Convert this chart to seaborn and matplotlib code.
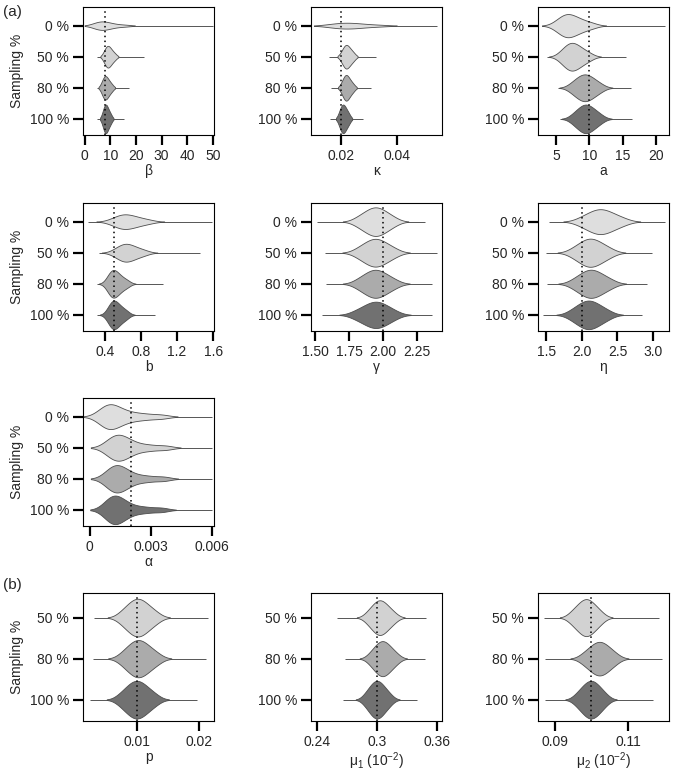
# Posterior violins for the model parameters, by sampling level

import numpy as np
import pandas as pd
import matplotlib
matplotlib.use("Agg")
import matplotlib.pyplot as plt
import seaborn as sns

groups_a = ["0 %", "50 %", "80 %", "100 %"]
groups_b = ["50 %", "80 %", "100 %"]
greys_a = ["#dedede", "#d2d2d2", "#ababab", "#717171"]
greys_b = ["#d2d2d2", "#ababab", "#717171"]

# body quantiles, plus the ends of the thin tails
beta_body = [
    [3.5, 4.8, 5.7, 6.4, 7.1, 7.9, 8.9, 10.3, 12.4, 16.0],
    [7.4, 8.05, 8.45, 8.8, 9.05, 9.4, 9.8, 10.3, 10.85, 11.85],
    [6.55, 7.15, 7.55, 7.8, 8.05, 8.4, 8.8, 9.2, 9.75, 10.65],
    [6.9, 7.4, 7.75, 7.95, 8.2, 8.45, 8.75, 9.1, 9.55, 10.25],
]
beta_lo = [2.0, 4.6, 4.6, 4.9]
beta_hi = [50.0, 23.3, 17.1, 15.4]

kappa_body = [
    [0.0155, 0.0178, 0.0195, 0.0209, 0.0222, 0.0236, 0.0252, 0.0272, 0.0300, 0.0345],
    [0.0199, 0.0207, 0.0211, 0.0214, 0.0218, 0.0221, 0.0225, 0.0230, 0.0236, 0.0245],
    [0.0200, 0.0207, 0.0211, 0.0214, 0.0217, 0.0220, 0.0224, 0.0228, 0.0234, 0.0243],
    [0.0191, 0.0197, 0.0200, 0.0203, 0.0206, 0.0209, 0.0212, 0.0216, 0.0221, 0.0228],
]
kappa_lo = [0.0113, 0.0156, 0.0164, 0.0158]
kappa_hi = [0.0545, 0.0325, 0.0307, 0.0277]

a_body = [
    [5.05, 5.75, 6.2, 6.55, 6.85, 7.25, 7.75, 8.35, 9.05, 10.3],
    [5.7, 6.35, 6.75, 7.1, 7.35, 7.7, 8.1, 8.5, 9.05, 9.95],
    [7.3, 8.05, 8.5, 8.85, 9.2, 9.55, 9.9, 10.3, 10.8, 11.65],
    [7.55, 8.25, 8.7, 9.05, 9.35, 9.65, 10.0, 10.4, 10.85, 11.65],
]
a_lo = [3.15, 3.65, 5.25, 5.5]
a_hi = [21.35, 15.5, 16.25, 16.35]

b_body = [
    [0.475, 0.535, 0.575, 0.6, 0.625, 0.66, 0.7, 0.74, 0.795, 0.885],
    [0.505, 0.555, 0.59, 0.61, 0.635, 0.66, 0.69, 0.725, 0.77, 0.84],
    [0.425, 0.455, 0.47, 0.485, 0.5, 0.515, 0.54, 0.56, 0.595, 0.645],
    [0.43, 0.46, 0.475, 0.49, 0.505, 0.52, 0.54, 0.565, 0.595, 0.64],
]
b_lo = [0.215, 0.336, 0.306, 0.306]
b_hi = [1.59, 1.46, 1.045, 0.96]

gamma_body = [
    [1.813, 1.862, 1.891, 1.914, 1.935, 1.955, 1.976, 1.999, 2.028, 2.077],
    [1.813, 1.862, 1.891, 1.914, 1.935, 1.956, 1.978, 2.002, 2.033, 2.085],
    [1.815, 1.863, 1.892, 1.915, 1.936, 1.956, 1.978, 2.002, 2.033, 2.085],
    [1.797, 1.853, 1.885, 1.911, 1.934, 1.956, 1.978, 2.002, 2.033, 2.085],
]
gamma_lo = [1.51, 1.574, 1.578, 1.549]
gamma_hi = [2.31, 2.40, 2.363, 2.363]

eta_body = [
    [1.985, 2.09, 2.15, 2.2, 2.245, 2.29, 2.335, 2.39, 2.46, 2.575],
    [1.875, 1.97, 2.025, 2.065, 2.105, 2.145, 2.19, 2.235, 2.295, 2.395],
    [1.885, 1.98, 2.03, 2.075, 2.115, 2.155, 2.195, 2.245, 2.305, 2.405],
    [1.855, 1.945, 2.0, 2.04, 2.08, 2.12, 2.16, 2.21, 2.265, 2.365],
]
eta_lo = [1.537, 1.5, 1.514, 1.458]
eta_hi = [3.164, 2.99, 2.92, 2.85]

alpha_body = [
    [0.0005, 0.00068, 0.0008, 0.0009, 0.001, 0.0011, 0.00123, 0.0014, 0.0016, 0.0019, 0.0023, 0.0028, 0.0035],
    [0.0008, 0.001, 0.00115, 0.00126, 0.00136, 0.00146, 0.00158, 0.00173, 0.0019, 0.0021, 0.0025, 0.003, 0.0037],
    [0.00078, 0.00097, 0.0011, 0.0012, 0.00129, 0.00139, 0.0015, 0.00164, 0.0018, 0.002, 0.0024, 0.0029, 0.0036],
    [0.00074, 0.00092, 0.00103, 0.00112, 0.0012, 0.0013, 0.0014, 0.00153, 0.0017, 0.0019, 0.0023, 0.0028, 0.0035],
]
alpha_lo = [0.00003, 0.00017, 0.00017, 0.00017]
alpha_hi = [0.006, 0.006, 0.006, 0.006]

p_body = [
    [0.00753, 0.0085, 0.00908, 0.00954, 0.00996, 0.01038, 0.01083, 0.01134, 0.01197, 0.01304],
    [0.00764, 0.00861, 0.00919, 0.00965, 0.01007, 0.0105, 0.01096, 0.01148, 0.01213, 0.01323],
    [0.00737, 0.00834, 0.00892, 0.00938, 0.0098, 0.01022, 0.01067, 0.01118, 0.01181, 0.01288],
]
p_lo = [0.00298, 0.0028, 0.00229]
p_hi = [0.0215, 0.0212, 0.0197]

mu1_body = [
    [0.2905, 0.2951, 0.2979, 0.3001, 0.302, 0.304, 0.3062, 0.3086, 0.3116, 0.3167],
    [0.2933, 0.2978, 0.3005, 0.3027, 0.3047, 0.3066, 0.3088, 0.3111, 0.3141, 0.3191],
    [0.2885, 0.2927, 0.2953, 0.2973, 0.2991, 0.301, 0.3029, 0.3051, 0.3079, 0.3125],
]
mu1_lo = [0.2593, 0.2676, 0.2653]
mu1_hi = [0.3486, 0.3476, 0.3403]

mu2_body = [
    [0.0947, 0.0961, 0.097, 0.0977, 0.0983, 0.0989, 0.0995, 0.1002, 0.1011, 0.1025],
    [0.0979, 0.0995, 0.1004, 0.1012, 0.1019, 0.1025, 0.1032, 0.104, 0.1049, 0.1065],
    [0.0961, 0.0975, 0.0983, 0.099, 0.0996, 0.1002, 0.1008, 0.1015, 0.1023, 0.1037],
]
mu2_lo = [0.0871, 0.0873, 0.0873]
mu2_hi = [0.1184, 0.1193, 0.1168]

true_vals = {"beta": 8, "kappa": 0.02, "a": 10, "b": 0.5, "gamma": 2.0,
             "eta": 2.0, "alpha": 0.002, "p": 0.01, "mu1": 0.3, "mu2": 0.1}

sns.set_style("ticks")
plt.rcParams["font.family"] = ["Liberation Sans", "DejaVu Sans"]
plt.rcParams["mathtext.fontset"] = "custom"
plt.rcParams["mathtext.rm"] = "Liberation Sans"
plt.rcParams["mathtext.it"] = "Liberation Sans:italic"


def violin_panel(ax, groups, greys, body, lo, hi, true_val, xlim, xticks,
                 xticklabels, xlabel, cut=2.0, bw=1.0):
    df = pd.DataFrame([(g, v) for g, vals in zip(groups, body) for v in vals],
                      columns=["group", "value"])
    pos = np.arange(len(groups))
    ax.hlines(pos, lo, hi, color="#555555", lw=0.7, zorder=0.5)
    sns.violinplot(data=df, x="value", y="group", hue="group", order=groups,
                   hue_order=groups, palette=greys, orient="h",
                   density_norm="area", common_norm=True, inner=None, cut=cut,
                   bw_adjust=bw, width=0.92, linewidth=0.6, linecolor="#4d4d4d",
                   legend=False, ax=ax)
    ax.axvline(true_val, color="black", ls=(0, (1, 2.2)), lw=1.1, zorder=5)
    ax.set_xlim(xlim)
    ax.set_ylim(len(groups) - 1 + 0.52, -0.6)
    ax.set_xticks(xticks)
    ax.set_xticklabels(xticklabels)
    ax.set_xlabel(xlabel, fontsize=10, labelpad=1)
    ax.set_ylabel("")
    for s in ax.spines.values():
        s.set_visible(True)
        s.set_linewidth(0.8)
        s.set_color("black")
    ax.tick_params(axis="both", length=7, width=1.6, direction="out",
                   labelsize=10, color="black")
    ax.tick_params(axis="x", pad=3)
    ax.tick_params(axis="y", pad=3)


fig = plt.figure(figsize=(6.75, 7.71), dpi=100)
W, H = 675, 771
col_left = [83, 311, 538]
row_top = [7, 203, 398, 593]
aw, ah = 131, 128


def make_ax(r, c):
    return fig.add_axes([col_left[c] / W, 1 - (row_top[r] + ah) / H, aw / W, ah / H])


ax = make_ax(0, 0)
violin_panel(ax, groups_a, greys_a, beta_body, beta_lo, beta_hi, true_vals["beta"],
             (-0.7, 50.5), [0, 10, 20, 30, 40, 50], ["0", "10", "20", "30", "40", "50"], "β",
             cut=1.5)
ax.set_ylabel("Sampling %", fontsize=10)

ax = make_ax(0, 1)
violin_panel(ax, groups_a, greys_a, kappa_body, kappa_lo, kappa_hi, true_vals["kappa"],
             (0.009, 0.0563), [0.02, 0.04], ["0.02", "0.04"], "κ", cut=1.5)

ax = make_ax(0, 2)
violin_panel(ax, groups_a, greys_a, a_body, a_lo, a_hi, true_vals["a"],
             (2.25, 22), [5, 10, 15, 20], ["5", "10", "15", "20"], "a", cut=2.2)

ax = make_ax(1, 0)
violin_panel(ax, groups_a, greys_a, b_body, b_lo, b_hi, true_vals["b"],
             (0.155, 1.61), [0.4, 0.8, 1.2, 1.6], ["0.4", "0.8", "1.2", "1.6"], "b", cut=2.2)
ax.set_ylabel("Sampling %", fontsize=10)

ax = make_ax(1, 1)
violin_panel(ax, groups_a, greys_a, gamma_body, gamma_lo, gamma_hi, true_vals["gamma"],
             (1.468, 2.436), [1.5, 1.75, 2.0, 2.25], ["1.50", "1.75", "2.00", "2.25"], "γ",
             cut=2.2)

ax = make_ax(1, 2)
violin_panel(ax, groups_a, greys_a, eta_body, eta_lo, eta_hi, true_vals["eta"],
             (1.383, 3.225), [1.5, 2.0, 2.5, 3.0], ["1.5", "2.0", "2.5", "3.0"], "η", cut=2.2)

ax = make_ax(2, 0)
violin_panel(ax, groups_a, greys_a, alpha_body, alpha_lo, alpha_hi, true_vals["alpha"],
             (-0.00033, 0.00608), [0, 0.003, 0.006], ["0", "0.003", "0.006"], "α",
             cut=2.0, bw=0.75)
ax.set_ylabel("Sampling %", fontsize=10)

ax = make_ax(3, 0)
violin_panel(ax, groups_b, greys_b, p_body, p_lo, p_hi, true_vals["p"],
             (0.00122, 0.0225), [0.01, 0.02], ["0.01", "0.02"], "p", cut=2.2)
ax.set_ylabel("Sampling %", fontsize=10)

ax = make_ax(3, 1)
violin_panel(ax, groups_b, greys_b, mu1_body, mu1_lo, mu1_hi, true_vals["mu1"],
             (0.2337, 0.365), [0.24, 0.3, 0.36], ["0.24", "0.3", "0.36"],
             r"μ$_1$ (10$^{-2}$)", cut=2.2)

ax = make_ax(3, 2)
violin_panel(ax, groups_b, greys_b, mu2_body, mu2_lo, mu2_hi, true_vals["mu2"],
             (0.0855, 0.1211), [0.09, 0.11], ["0.09", "0.11"],
             r"μ$_2$ (10$^{-2}$)", cut=2.2)

fig.text(3 / W, 1 - 12 / H, "(a)", fontsize=11, va="center", ha="left")
fig.text(3 / W, 1 - 585 / H, "(b)", fontsize=11, va="center", ha="left")

fig.savefig("out.png", dpi=100)
